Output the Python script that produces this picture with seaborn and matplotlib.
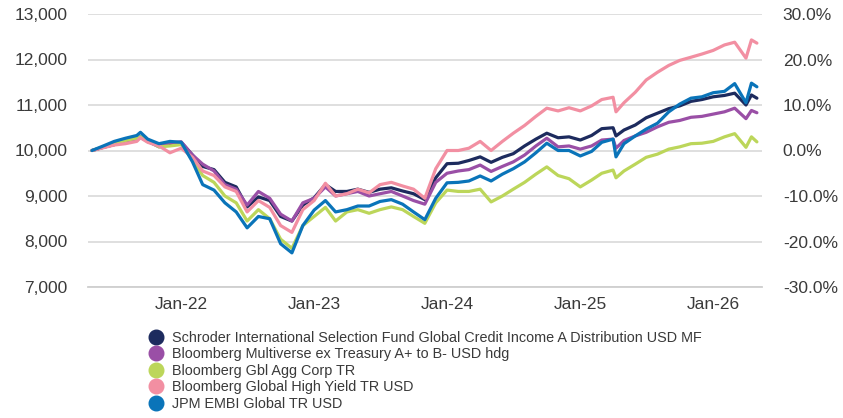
import matplotlib
matplotlib.use("Agg")
import matplotlib.pyplot as plt
import matplotlib.dates as mdates
from matplotlib.ticker import FuncFormatter
from matplotlib.lines import Line2D
import seaborn as sns
import pandas as pd

# ---------------- data ----------------
dates = [
    "2021-04-30", "2021-05-31", "2021-06-30", "2021-07-31", "2021-08-31", "2021-09-10",
    "2021-09-30", "2021-10-31", "2021-11-30", "2021-12-31",
    "2022-01-31", "2022-02-28", "2022-03-31", "2022-04-30", "2022-05-31", "2022-06-30",
    "2022-07-31", "2022-08-31", "2022-09-30", "2022-10-31", "2022-11-30", "2022-12-31",
    "2023-01-31", "2023-02-28", "2023-03-31", "2023-04-30", "2023-05-31", "2023-06-30",
    "2023-07-31", "2023-08-31", "2023-09-30", "2023-10-31", "2023-11-30", "2023-12-31",
    "2024-01-31", "2024-02-29", "2024-03-31", "2024-04-30", "2024-05-31", "2024-06-30",
    "2024-07-31", "2024-08-31", "2024-09-30", "2024-10-31", "2024-11-30", "2024-12-31",
    "2025-01-31", "2025-02-28", "2025-03-31", "2025-04-08", "2025-04-30", "2025-05-31",
    "2025-06-30", "2025-07-31", "2025-08-31", "2025-09-30", "2025-10-31", "2025-11-30",
    "2025-12-31", "2026-01-31", "2026-02-28", "2026-03-31", "2026-04-15", "2026-04-30",
]

schroder = [
    10000, 10070, 10130, 10220, 10260, 10300, 10200, 10100, 10150, 10180,
    9900, 9650, 9580, 9300, 9200, 8760, 8980, 8900, 8550, 8450, 8800, 8960,
    9250, 9100, 9100, 9150, 9080, 9150, 9180, 9110, 9050, 8920, 9400, 9710,
    9720, 9780, 9860, 9740, 9850, 9930, 10100, 10250, 10380, 10280, 10300, 10230,
    10330, 10480, 10500, 10320, 10450, 10560, 10720, 10820, 10920, 10980, 11080, 11120,
    11180, 11210, 11260, 11000, 11220, 11150,
]

multiverse = [
    10000, 10070, 10130, 10220, 10260, 10290, 10200, 10080, 10170, 10190,
    9900, 9700, 9550, 9250, 9150, 8800, 9100, 8950, 8600, 8450, 8850, 8950,
    9200, 9000, 9050, 9100, 9000, 9050, 9100, 9000, 8900, 8820, 9300, 9500,
    9550, 9580, 9680, 9540, 9650, 9750, 9900, 10100, 10270, 10080, 10100, 10030,
    10100, 10230, 10250, 10050, 10220, 10320, 10400, 10520, 10620, 10660, 10730, 10750,
    10800, 10850, 10930, 10700, 10880, 10830,
]

gbl_agg_corp = [
    10000, 10080, 10130, 10220, 10270, 10300, 10220, 10080, 10100, 10130,
    9800, 9450, 9300, 9000, 8850, 8450, 8700, 8500, 8050, 7850, 8350, 8550,
    8750, 8450, 8650, 8700, 8620, 8700, 8760, 8700, 8550, 8400, 8850, 9130,
    9100, 9100, 9150, 8870, 9000, 9150, 9300, 9480, 9640, 9450, 9380, 9200,
    9350, 9500, 9570, 9400, 9550, 9700, 9850, 9920, 10030, 10080, 10150, 10160,
    10200, 10300, 10370, 10070, 10300, 10190,
]

global_hy = [
    10000, 10060, 10120, 10150, 10200, 10280, 10180, 10100, 9950, 10050,
    9850, 9550, 9450, 9200, 9100, 8650, 8900, 8750, 8350, 8200, 8700, 8900,
    9280, 9000, 9050, 9150, 9070, 9250, 9300, 9220, 9150, 8950, 9600, 10000,
    10000, 10050, 10200, 10000, 10200, 10380, 10550, 10750, 10930, 10870, 10940, 10870,
    10980, 11120, 11170, 10850, 11050, 11280, 11550, 11720, 11870, 11980, 12050, 12120,
    12200, 12320, 12380, 12030, 12430, 12360,
]

embi = [
    10000, 10100, 10200, 10270, 10330, 10400, 10250, 10150, 10200, 10180,
    9750, 9250, 9130, 8850, 8650, 8300, 8550, 8500, 7950, 7750, 8350, 8690,
    8900, 8650, 8700, 8780, 8780, 8880, 8920, 8820, 8650, 8480, 8950, 9290,
    9300, 9330, 9440, 9330, 9480, 9600, 9750, 9950, 10160, 10000, 10000, 9880,
    9980, 10180, 10250, 9860, 10150, 10320, 10470, 10600, 10850, 11020, 11150, 11180,
    11270, 11300, 11470, 11050, 11480, 11400,
]

series_names = [
    "Schroder International Selection Fund Global Credit Income A Distribution USD MF",
    "Bloomberg Multiverse ex Treasury A+ to B- USD hdg",
    "Bloomberg Gbl Agg Corp TR",
    "Bloomberg Global High Yield TR USD",
    "JPM EMBI Global TR USD",
]
series_colors = ["#1d2b5e", "#9a4fa6", "#bcd65a", "#f28fa2", "#0a74b9"]

left_ticks = [7000, 8000, 9000, 10000, 11000, 12000, 13000]
right_ticks = [-30, -20, -10, 0, 10, 20, 30]
x_tick_dates = ["2022-01-01", "2023-01-01", "2024-01-01", "2025-01-01", "2026-01-01"]

# ---------------- build long table ----------------
frames = []
for name, vals in zip(series_names, [schroder, multiverse, gbl_agg_corp, global_hy, embi]):
    frames.append(pd.DataFrame({"Date": pd.to_datetime(dates), "Value": vals, "Series": name}))
df = pd.concat(frames, ignore_index=True)

# ---------------- plot ----------------
sns.set_theme(style="white")
plt.rcParams["font.family"] = ["Liberation Sans", "DejaVu Sans"]
text_color = "#3a3a3a"

W, H = 843, 418
fig = plt.figure(figsize=(W / 100, H / 100), dpi=100)
ax = fig.add_axes([88 / W, 1 - 287 / H, (762 - 88) / W, (287 - 14) / H])

sns.lineplot(data=df, x="Date", y="Value", hue="Series", hue_order=series_names,
             palette=series_colors, linewidth=2.3, legend=False, ax=ax)

ax.set_ylim(7000, 13000)
ax.set_xlim(pd.Timestamp("2021-04-19"), pd.Timestamp("2026-05-14"))
ax.set_yticks(left_ticks)
ax.yaxis.set_major_formatter(FuncFormatter(lambda v, p: f"{v:,.0f}"))
ax.set_xticks(pd.to_datetime(x_tick_dates))
ax.xaxis.set_major_formatter(mdates.DateFormatter("%b-%y"))
ax.set_xlabel("")
ax.set_ylabel("")
ax.grid(axis="y", color="#dcdcdc", linewidth=1.3)
ax.set_axisbelow(True)
for s in ["top", "right", "left"]:
    ax.spines[s].set_visible(False)
ax.spines["bottom"].set_color("#cfcfcf")
ax.spines["bottom"].set_linewidth(1.3)
ax.tick_params(axis="y", length=0, pad=15, labelsize=12.5, labelcolor=text_color)
ax.tick_params(axis="x", length=0, pad=7, labelsize=12.5, labelcolor=text_color)

ax2 = ax.twinx()
ax2.set_ylim(-30, 30)
ax2.set_yticks(right_ticks)
ax2.yaxis.set_major_formatter(FuncFormatter(lambda v, p: f"{v:.1f}%"))
for s in ["top", "right", "left", "bottom"]:
    ax2.spines[s].set_visible(False)
ax2.tick_params(axis="y", length=0, pad=15, labelsize=12.5, labelcolor=text_color)
ax2.grid(False)

handles = [Line2D([], [], marker="o", linestyle="None", markersize=10.5,
                  markerfacecolor=c, markeredgecolor=c) for c in series_colors]
leg = fig.legend(handles, series_names, loc="upper left",
                 bbox_to_anchor=(149 / W, 1 - 331 / H), frameon=False,
                 fontsize=10.4, handletextpad=0.6, labelspacing=0.17,
                 borderpad=0, borderaxespad=0, handlelength=1.0)
for t in leg.get_texts():
    t.set_color(text_color)

fig.savefig("out.png", dpi=100)
